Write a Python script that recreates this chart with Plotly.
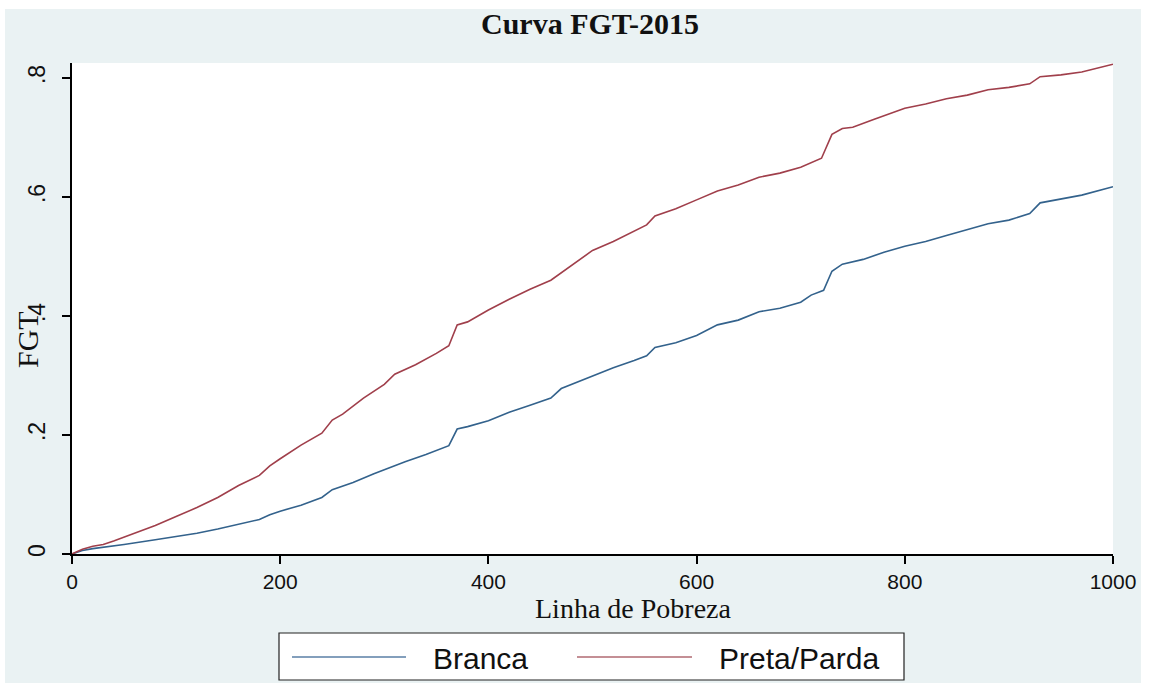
import plotly.graph_objects as go

# poverty line values and FGT curves
linha_branca = [0, 10, 20, 30, 50, 80, 100, 120, 140, 160, 180, 190, 200, 220, 240, 250,
                270, 290, 300, 320, 340, 362, 370, 380, 400, 420, 440, 460, 470, 480, 500,
                520, 540, 552, 560, 580, 600, 620, 640, 660, 680, 700, 710, 722, 730, 740,
                760, 780, 800, 820, 840, 860, 880, 900, 920, 930, 950, 970, 1000]
fgt_branca = [0, 0.006, 0.009, 0.011, 0.016, 0.024, 0.029, 0.035, 0.042, 0.05, 0.058, 0.066,
              0.072, 0.082, 0.095, 0.108, 0.12, 0.135, 0.142, 0.155, 0.167, 0.182, 0.21, 0.214,
              0.224, 0.238, 0.25, 0.262, 0.278, 0.285, 0.3, 0.313, 0.325, 0.333, 0.347, 0.355,
              0.367, 0.385, 0.393, 0.407, 0.413, 0.423, 0.435, 0.443, 0.475, 0.487, 0.495,
              0.507, 0.517, 0.525, 0.535, 0.545, 0.555, 0.561, 0.572, 0.59, 0.597, 0.603, 0.617]

linha_preta = [0, 10, 20, 30, 40, 60, 80, 100, 120, 140, 160, 180, 190, 200, 220, 240, 250,
               260, 280, 300, 310, 330, 350, 362, 370, 380, 400, 420, 440, 460, 480, 500, 520,
               540, 552, 560, 580, 600, 620, 640, 660, 680, 700, 720, 730, 740, 750, 770, 800,
               820, 840, 860, 880, 900, 920, 930, 950, 970, 1000]
fgt_preta = [0, 0.008, 0.013, 0.016, 0.022, 0.035, 0.048, 0.063, 0.078, 0.095, 0.115, 0.132,
             0.148, 0.16, 0.183, 0.203, 0.225, 0.235, 0.262, 0.285, 0.302, 0.318, 0.337, 0.35,
             0.385, 0.39, 0.41, 0.428, 0.445, 0.46, 0.485, 0.51, 0.525, 0.542, 0.553, 0.568,
             0.58, 0.595, 0.61, 0.62, 0.633, 0.64, 0.65, 0.665, 0.705, 0.715, 0.717, 0.73,
             0.749, 0.756, 0.765, 0.771, 0.78, 0.784, 0.79, 0.802, 0.805, 0.81, 0.823]

y_ticks = [0, 0.2, 0.4, 0.6, 0.8]
y_labels = ["0", ".2", ".4", ".6", ".8"]
x_ticks = [0, 200, 400, 600, 800, 1000]

azul = "#33628c"
vinho = "#a03f4b"
fundo = "#EAF2F3"
serif = "Liberation Serif, Times New Roman, serif"
sans = "Liberation Sans, Arial, sans-serif"

fig = go.Figure()
fig.add_trace(go.Scatter(x=linha_branca, y=fgt_branca, mode="lines", name="Branca",
                         line=dict(color=azul, width=1.6)))
fig.add_trace(go.Scatter(x=linha_preta, y=fgt_preta, mode="lines", name="Preta/Parda",
                         line=dict(color=vinho, width=1.6)))

# plot area in pixels: x 72..1113, y 63..554
W, H = 1149, 683
L, R, T, B = 72, 1113, 63, 554


def px(x):
    return (x - L) / (R - L)


def py(y):
    return (B - y) / (B - T)


shapes = [
    # stata style background band, then white plot region on top of it
    dict(type="rect", xref="paper", yref="paper", x0=px(5), x1=px(1141), y0=py(683), y1=py(9),
         fillcolor=fundo, line=dict(width=0), layer="below"),
    dict(type="rect", xref="paper", yref="paper", x0=0, x1=1, y0=0, y1=1,
         fillcolor="white", line=dict(width=0), layer="below"),
    # legend box
    dict(type="rect", xref="paper", yref="paper", x0=px(279), x1=px(904), y0=py(680), y1=py(633),
         fillcolor="white", line=dict(color="#222222", width=1.2)),
    dict(type="line", xref="paper", yref="paper", x0=px(292), x1=px(406), y0=py(657), y1=py(657),
         line=dict(color="#5a7fa6", width=1.6)),
    dict(type="line", xref="paper", yref="paper", x0=px(577), x1=px(692), y0=py(657), y1=py(657),
         line=dict(color="#b06a72", width=1.6)),
]


def texto(t, x, y, fam, size, xanchor="center", angle=0):
    return dict(text=t, x=px(x), y=py(y), xref="paper", yref="paper", showarrow=False,
                xanchor=xanchor, yanchor="middle", textangle=angle,
                font=dict(family=fam, size=size, color="#111111"))


annotations = [
    texto("<b>Curva FGT-2015</b>", 590, 23, serif, 30),
    texto("Linha de Pobreza", 633, 608, serif, 28),
    texto("FGT", 27, 340, serif, 30, angle=-90),
    texto("Branca", 431, 658, sans, 30, xanchor="left"),
    texto("Preta/Parda", 717, 658, sans, 30, xanchor="left"),
]

fig.update_layout(
    width=W, height=H,
    margin=dict(l=L, r=W - R, t=T, b=H - B),
    paper_bgcolor="white", plot_bgcolor="white",
    showlegend=False,
    shapes=shapes, annotations=annotations,
    xaxis=dict(range=[0, 1000], tickvals=x_ticks, showgrid=False, zeroline=False,
               showline=True, linecolor="black", linewidth=1.5, ticks="outside", ticklen=8,
               tickwidth=1.5, tickcolor="black", ticklabelstandoff=0,
               tickfont=dict(family=sans, size=21, color="#111111")),
    yaxis=dict(range=[0, 0.825], tickvals=y_ticks, ticktext=y_labels, tickangle=-90,
               showgrid=False, zeroline=False, showline=True, linecolor="black", linewidth=1.5,
               ticks="outside", ticklen=8, tickwidth=1.5, tickcolor="black",
               ticklabelstandoff=8,
               tickfont=dict(family=sans, size=23, color="#111111")),
)

fig.write_html("out.html", config={"displayModeBar": False},
               post_script="document.body.style.margin='0';")
